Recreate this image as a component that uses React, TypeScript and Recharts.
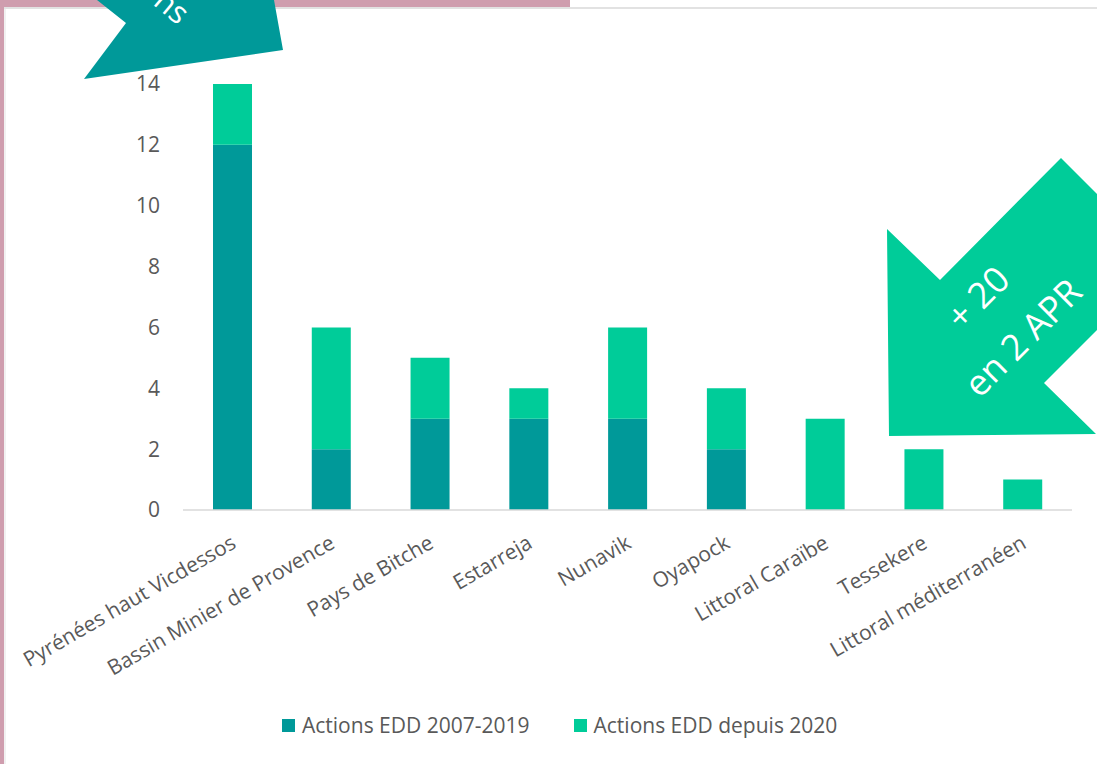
import React from 'react';
import { BarChart, Bar, XAxis, YAxis, Legend } from 'recharts';

const categories = [
  'Pyrénées haut Vicdessos',
  'Bassin Minier de Provence',
  'Pays de Bitche',
  'Estarreja',
  'Nunavik',
  'Oyapock',
  'Littoral Caraïbe',
  'Tessekere',
  'Littoral méditerranéen',
];
const actionsAvant = [12, 2, 3, 3, 3, 2, 0, 0, 0];
const actionsDepuis = [2, 4, 2, 1, 3, 2, 3, 2, 1];
const yTicks = [0, 2, 4, 6, 8, 10, 12, 14];

const data = categories.map((name, i) => ({
  name,
  avant: actionsAvant[i],
  depuis: actionsDepuis[i],
}));

const TEAL = '#009999';
const GREEN = '#00CC99';
const TXT = '#595959';
const FONT = '"Open Sans", sans-serif';

const CatTick = (props: any) => {
  const { x, y, payload } = props;
  const tx = x + 5;
  const ty = y + 37;
  return (
    <text x={tx} y={ty} transform={`rotate(-30, ${tx}, ${ty})`} textAnchor="end"
      fill={TXT} fontSize={21} fontFamily={FONT}>
      {payload.value}
    </text>
  );
};

const LegendBox = (props: any) => {
  const { payload } = props;
  return (
    <div style={{ display: 'flex', gap: 44, height: 30, alignItems: 'center', fontFamily: FONT, fontSize: 21, color: TXT }}>
      {payload.map((p: any) => (
        <div key={p.value} style={{ display: 'flex', alignItems: 'center', gap: 7 }}>
          <span style={{ width: 13, height: 13, background: p.color, display: 'inline-block' }} />
          <span>{p.value}</span>
        </div>
      ))}
    </div>
  );
};

export default function App() {
  return (
    <div style={{ position: 'absolute', left: 0, top: 0, width: 1097, height: 764, background: '#fff', overflow: 'hidden' }}>
      <BarChart width={1097} height={764} data={data}
        margin={{ top: 84, right: 25, left: 123, bottom: 24 }} barSize={39}>
        <XAxis dataKey="name" height={200} interval={0} tick={<CatTick />}
          tickLine={false} tickSize={0} tickMargin={0}
          axisLine={{ stroke: '#d9d9d9', strokeWidth: 1.5 }} />
        <YAxis width={60} domain={[0, 14]} ticks={yTicks} axisLine={false} tickLine={false}
          tickSize={0} tickMargin={23}
          tick={{ fill: TXT, fontSize: 21, fontFamily: FONT }} />
        <Legend verticalAlign="bottom" content={<LegendBox />}
          wrapperStyle={{ left: 282, width: 700 }} />
        <Bar dataKey="avant" stackId="a" name="Actions EDD 2007-2019" fill={TEAL} isAnimationActive={false} />
        <Bar dataKey="depuis" stackId="a" name="Actions EDD depuis 2020" fill={GREEN} isAnimationActive={false} />
      </BarChart>
      <svg width={1097} height={764} style={{ position: 'absolute', left: 0, top: 0, pointerEvents: 'none' }}>
        {/* cadre */}
        <rect x={0} y={0} width={570} height={7} fill="#CF9DAE" />
        <rect x={0} y={0} width={4} height={764} fill="#CF9DAE" />
        <line x1={4} y1={8} x2={1097} y2={8} stroke="#d9d9d9" strokeWidth={1.5} />
        <line x1={5} y1={8} x2={5} y2={764} stroke="#e3e3e3" strokeWidth={1} />
        {/* flèche haut gauche */}
        <polygon points="97,0 274,0 283,50 84,79 126,23 97,0" fill={TEAL} />
        <text x={152} y={4} transform="rotate(40, 152, 4)" fill="#fff" fontSize={31} fontFamily={FONT}>ns</text>
        {/* flèche droite */}
        <polygon points="1061,158 1097,194 1097,330 1044,383 1096,434 889,436 887,229 940,280" fill={GREEN} />
        <text x={980} y={300} transform="rotate(-45, 980, 300)" textAnchor="middle" dominantBaseline="middle"
          fill="#fff" fontSize={36} fontFamily={FONT}>+ 20</text>
        <text x={1025} y={340} transform="rotate(-45, 1025, 340)" textAnchor="middle" dominantBaseline="middle"
          fill="#fff" fontSize={36} fontFamily={FONT}>en 2 APR</text>
      </svg>
    </div>
  );
}
